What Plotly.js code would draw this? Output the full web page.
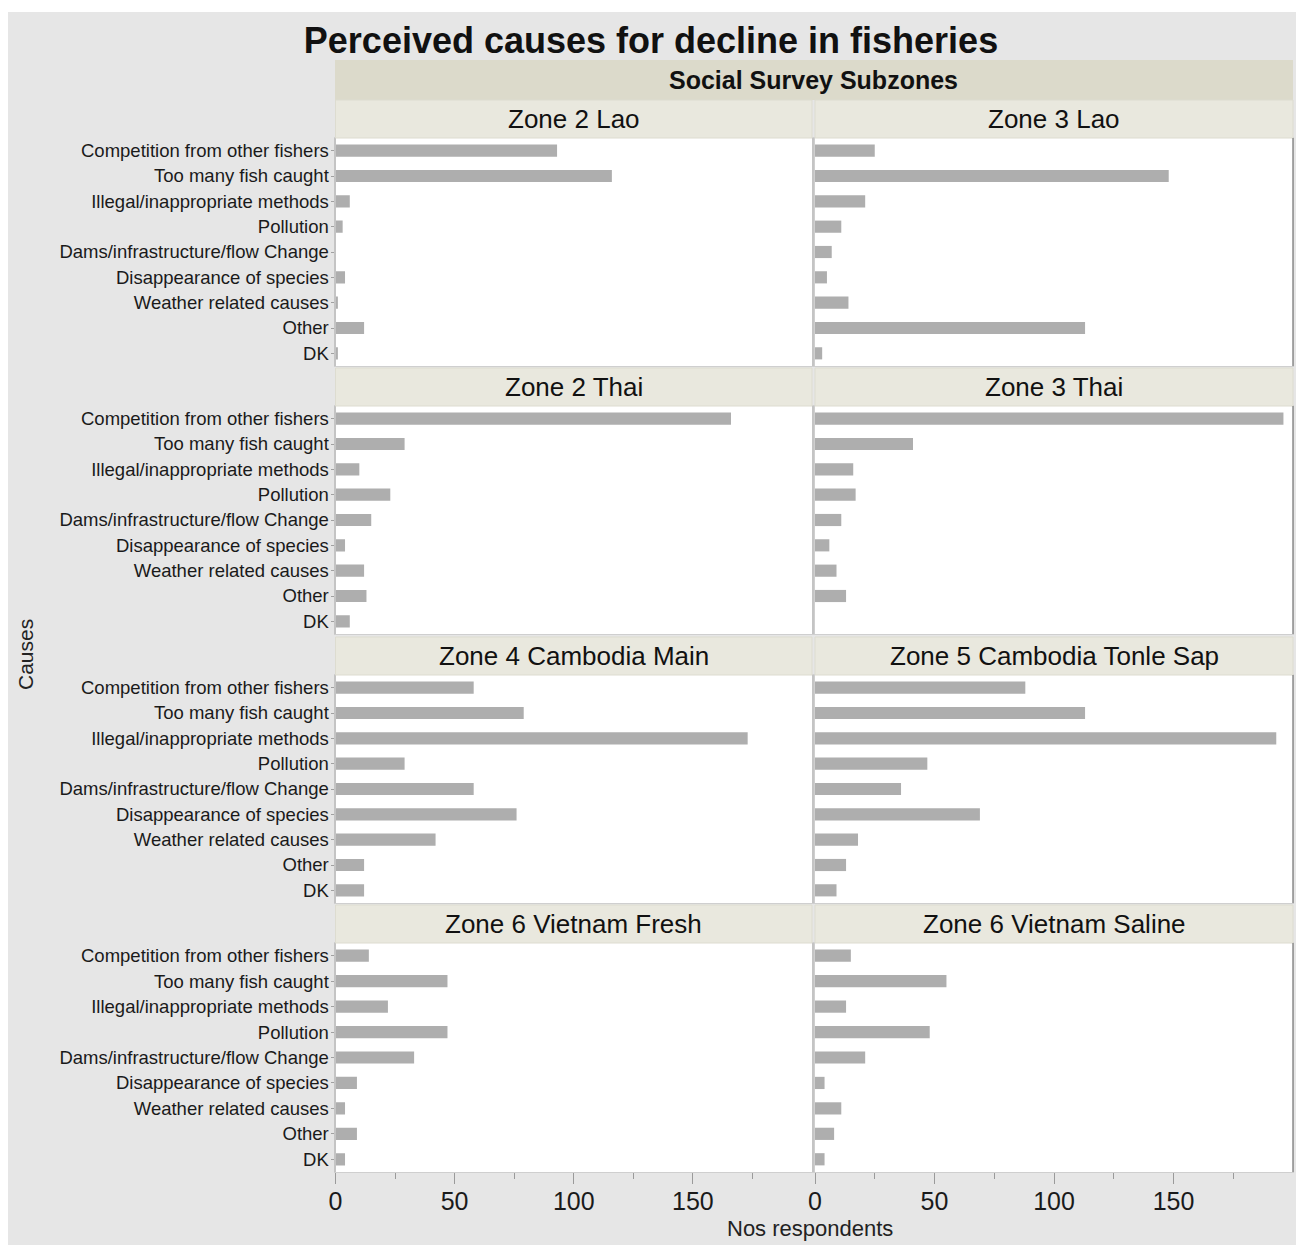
<!DOCTYPE html>
<html>
<head>
<meta charset="utf-8">
<script src="https://cdn.plot.ly/plotly-3.0.1.min.js"></script>
<style>
  html, body { margin: 0; padding: 0; background: #ffffff; }
  #myDiv { width: 1298px; height: 1247px; }
</style>
</head>
<body>
<div id="myDiv"></div>
<script>
var causes = ['Competition from other fishers', 'Too many fish caught', 'Illegal/inappropriate methods',
  'Pollution', 'Dams/infrastructure/flow Change', 'Disappearance of species',
  'Weather related causes', 'Other', 'DK'];

var zone2Lao = [93, 116, 6, 3, 0, 4, 1, 12, 1];
var zone3Lao = [25, 148, 21, 11, 7, 5, 14, 113, 3];
var zone2Thai = [166, 29, 10, 23, 15, 4, 12, 13, 6];
var zone3Thai = [196, 41, 16, 17, 11, 6, 9, 13, 0];
var zone4CambodiaMain = [58, 79, 173, 29, 58, 76, 42, 12, 12];
var zone5TonleSap = [88, 113, 193, 47, 36, 69, 18, 13, 9];
var zone6VietnamFresh = [14, 47, 22, 47, 33, 9, 4, 9, 4];
var zone6VietnamSaline = [15, 55, 13, 48, 21, 4, 11, 8, 4];

var zoneNames = ['Zone 2 Lao', 'Zone 3 Lao', 'Zone 2 Thai', 'Zone 3 Thai',
  'Zone 4 Cambodia Main', 'Zone 5 Cambodia Tonle Sap', 'Zone 6 Vietnam Fresh', 'Zone 6 Vietnam Saline'];
var zoneValues = [zone2Lao, zone3Lao, zone2Thai, zone3Thai,
  zone4CambodiaMain, zone5TonleSap, zone6VietnamFresh, zone6VietnamSaline];

var xTicks = [0, 50, 100, 150];
var xMinorTicks = [25, 75, 125, 175];

// page geometry in pixels
var W = 1298, H = 1247;
function fx(px) { return px / W; }
function fy(px) { return 1 - px / H; }

var cols = [[335.5, 812], [815, 1293]];
var rowTops = [138, 406, 675, 943];
var rowBottoms = [366, 634, 903, 1172];
var headerTops = [100, 368, 637, 905];

var font = 'Liberation Sans, Arial, Helvetica, sans-serif';
var barColor = '#aeaeae';

var data = [];
var layout = {
  width: W, height: H,
  margin: {l: 0, r: 0, t: 0, b: 0},
  paper_bgcolor: '#e6e6e6',
  plot_bgcolor: '#ffffff',
  showlegend: false,
  bargap: 0.52,
  font: {family: font, color: '#1a1a1a'},
  title: {
    text: '<b>Perceived causes for decline in fisheries</b>',
    x: fx(651), xref: 'paper', xanchor: 'center',
    y: fy(40), yref: 'paper', yanchor: 'middle',
    font: {size: 36, family: font, color: '#111111'}
  },
  shapes: [
    // white page edges around the grey panel
    {type: 'rect', xref: 'paper', yref: 'paper', x0: 0, x1: 1, y0: fy(12), y1: 1, fillcolor: '#ffffff', line: {width: 0}},
    {type: 'rect', xref: 'paper', yref: 'paper', x0: 0, x1: fx(8), y0: 0, y1: 1, fillcolor: '#ffffff', line: {width: 0}},
    {type: 'rect', xref: 'paper', yref: 'paper', x0: fx(1296), x1: 1, y0: 0, y1: 1, fillcolor: '#ffffff', line: {width: 0}},
    {type: 'rect', xref: 'paper', yref: 'paper', x0: 0, x1: 1, y0: 0, y1: fy(1245), fillcolor: '#ffffff', line: {width: 0}},
    // top group header
    {type: 'rect', xref: 'paper', yref: 'paper', x0: fx(335), x1: fx(1293), y0: fy(100), y1: fy(60), fillcolor: '#dcdacb', line: {width: 0}}
  ],
  annotations: [
    {text: '<b>Social Survey Subzones</b>', xref: 'paper', yref: 'paper', x: fx(813), y: fy(80),
      xanchor: 'center', yanchor: 'middle', showarrow: false, font: {size: 25, color: '#111111'}},
    {text: 'Nos respondents', xref: 'paper', yref: 'paper', x: fx(810), y: fy(1228),
      xanchor: 'center', yanchor: 'middle', showarrow: false, font: {size: 22, color: '#222222'}},
    {text: 'Causes', xref: 'paper', yref: 'paper', x: fx(25), y: fy(655), textangle: -90,
      xanchor: 'center', yanchor: 'middle', showarrow: false, font: {size: 21, color: '#222222'}}
  ]
};

for (var i = 0; i < zoneNames.length; i++) {
  var row = Math.floor(i / 2), col = i % 2;
  var id = i === 0 ? '' : String(i + 1);
  var c = cols[col];

  data.push({
    type: 'bar', orientation: 'h',
    y: causes, x: zoneValues[i],
    xaxis: 'x' + id, yaxis: 'y' + id,
    marker: {color: barColor, line: {width: 0}},
    hoverinfo: 'x+y'
  });

  var xa = {
    domain: [fx(c[0]), fx(c[1])], anchor: 'y' + id,
    range: [0, 200], fixedrange: true,
    showline: true, mirror: true, linecolor: '#cfcfcf', linewidth: 1,
    showgrid: false, zeroline: false,
    tickmode: 'array', tickvals: xTicks,
    showticklabels: row === 3, ticks: row === 3 ? 'outside' : '',
    ticklen: 11, tickcolor: '#9a9a9a', tickwidth: 1,
    ticklabelstandoff: -4,
    tickfont: {size: 25, color: '#1a1a1a'}
  };
  if (row === 3) {
    xa.minor = {tickmode: 'array', tickvals: xMinorTicks, ticks: 'outside', ticklen: 6, tickcolor: '#9a9a9a', showgrid: false};
  }
  layout['xaxis' + id] = xa;

  layout['yaxis' + id] = {
    domain: [fy(rowBottoms[row]), fy(rowTops[row])], anchor: 'x' + id,
    type: 'category', categoryorder: 'array', categoryarray: causes,
    range: [8.5, -0.5], fixedrange: true,
    showline: true, mirror: true, linecolor: col === 0 ? '#c4c4c4' : '#cfcfcf', linewidth: col === 0 ? 2 : 1,
    showgrid: false, zeroline: false,
    showticklabels: col === 0, ticks: col === 0 ? 'outside' : '',
    ticklen: 3, tickcolor: '#a0a0a0',
    ticklabelstandoff: -2,
    tickfont: {size: 18.5, color: '#1a1a1a'}
  };

  // zone header band
  layout.shapes.push({type: 'rect', xref: 'paper', yref: 'paper',
    x0: fx(c[0]), x1: fx(c[1]), y0: fy(rowTops[row]), y1: fy(headerTops[row]),
    fillcolor: '#e9e8de', line: {color: '#dddcd0', width: 1}});
  layout.annotations.push({text: zoneNames[i], xref: 'paper', yref: 'paper',
    x: fx((c[0] + c[1]) / 2), y: fy((headerTops[row] + rowTops[row]) / 2),
    xanchor: 'center', yanchor: 'middle', showarrow: false,
    font: {size: 26, color: '#111111'}});

  // darker right edge on the right-hand panels
  if (col === 1) {
    layout.shapes.push({type: 'line', xref: 'paper', yref: 'paper',
      x0: fx(c[1]), x1: fx(c[1]), y0: fy(rowBottoms[row]), y1: fy(rowTops[row]),
      line: {color: '#8c8c8c', width: 1.5}});
  }
}

Plotly.newPlot('myDiv', data, layout, {displayModeBar: false});
</script>
</body>
</html>
